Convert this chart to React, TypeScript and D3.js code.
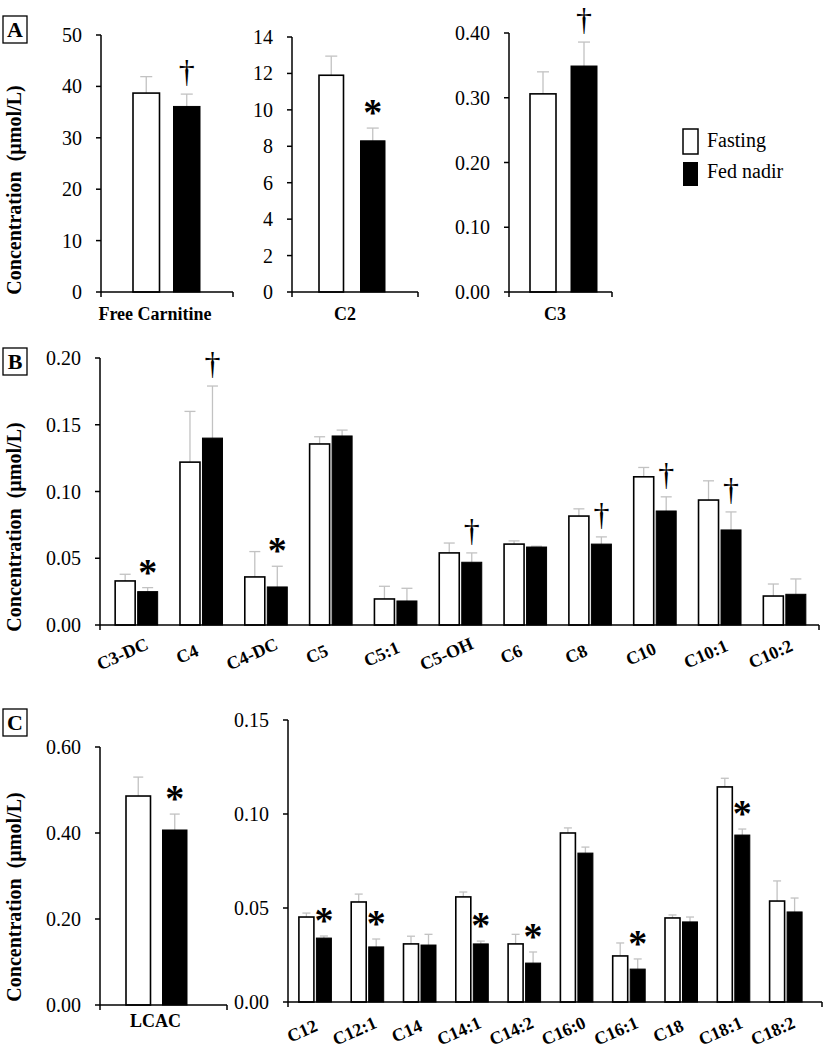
import React from 'react';
import * as d3 from 'd3';

const SERIF = "'Liberation Serif', 'Times New Roman', Times, serif";

// ---------- Panel A ----------
const freeCarnitineCats = ['Free Carnitine'];
const freeCarnitineFasting = [38.7];
const freeCarnitineFastingSe = [3.2];
const freeCarnitineFed = [36.1];
const freeCarnitineFedSe = [2.4];
const freeCarnitineSig = ['†'];
const freeCarnitineTicks = [0, 10, 20, 30, 40, 50];

const c2Cats = ['C2'];
const c2Fasting = [11.9];
const c2FastingSe = [1.05];
const c2Fed = [8.3];
const c2FedSe = [0.7];
const c2Sig = ['*'];
const c2Ticks = [0, 2, 4, 6, 8, 10, 12, 14];

const c3Cats = ['C3'];
const c3Fasting = [0.306];
const c3FastingSe = [0.034];
const c3Fed = [0.349];
const c3FedSe = [0.037];
const c3Sig = ['†'];
const c3Ticks = [0, 0.1, 0.2, 0.3, 0.4];

// ---------- Panel B ----------
const shortCats = ['C3-DC', 'C4', 'C4-DC', 'C5', 'C5:1', 'C5-OH', 'C6', 'C8', 'C10', 'C10:1', 'C10:2'];
const shortFasting = [0.033, 0.122, 0.036, 0.1356, 0.0195, 0.054, 0.0606, 0.0816, 0.111, 0.0936, 0.0217];
const shortFastingSe = [0.005, 0.038, 0.019, 0.0054, 0.0095, 0.0074, 0.0024, 0.0054, 0.007, 0.0144, 0.009];
const shortFed = [0.025, 0.14, 0.0285, 0.1416, 0.018, 0.047, 0.0584, 0.0606, 0.0854, 0.0712, 0.023];
const shortFedSe = [0.003, 0.039, 0.0155, 0.0044, 0.0095, 0.007, 0.0006, 0.0054, 0.0106, 0.0135, 0.0115];
const shortSig = ['*', '†', '*', '', '', '†', '', '†', '†', '†', ''];
const shortTicks = [0, 0.05, 0.1, 0.15, 0.2];

// ---------- Panel C ----------
const lcacCats = ['LCAC'];
const lcacFasting = [0.486];
const lcacFastingSe = [0.044];
const lcacFed = [0.407];
const lcacFedSe = [0.037];
const lcacSig = ['*'];
const lcacTicks = [0, 0.2, 0.4, 0.6];

const longCats = ['C12', 'C12:1', 'C14', 'C14:1', 'C14:2', 'C16:0', 'C16:1', 'C18', 'C18:1', 'C18:2'];
const longFasting = [0.0452, 0.0532, 0.0309, 0.0559, 0.0309, 0.0899, 0.0245, 0.0447, 0.1144, 0.0537];
const longFastingSe = [0.0021, 0.0042, 0.0041, 0.0026, 0.0051, 0.0027, 0.0069, 0.0016, 0.0046, 0.0107];
const longFed = [0.034, 0.0293, 0.0303, 0.0309, 0.0207, 0.0792, 0.0175, 0.0426, 0.0888, 0.0479];
const longFedSe = [0.0011, 0.0042, 0.0057, 0.0015, 0.0059, 0.0032, 0.0054, 0.0026, 0.0032, 0.0074];
const longSig = ['*', '*', '', '*', '*', '', '*', '', '*', ''];
const longTicks = [0, 0.05, 0.1, 0.15];

const legendLabels = ['Fasting', 'Fed nadir'];
const panelLetters = ['A', 'B', 'C'];
const yTitle = 'Concentration  (µmol/L)';

type Layout = {
  axisX: number;
  axisEnd: number;
  yBase: number;
  yTop: number;
  band: [number, number];
  barW: number;
  gap: number;
  capW: number;
  fmt: (v: number) => string;
  rotate: boolean;
  labelDx: number;
  labelDy: number;
};

type PanelProps = {
  cats: string[];
  fasting: number[];
  fastingSe: number[];
  fed: number[];
  fedSe: number[];
  sig: string[];
  ticks: number[];
  layout: Layout;
};

const ERR = '#c2c2c2';
const serifStyle = { fontFamily: SERIF };

function BarPanel({ cats, fasting, fastingSe, fed, fedSe, sig, ticks, layout }: PanelProps) {
  const L = layout;
  const y = d3.scaleLinear().domain([0, ticks[ticks.length - 1]]).range([L.yBase, L.yTop]);
  const x = d3.scaleBand<string>().domain(cats).range(L.band);
  const half = L.gap / 2 + L.barW / 2;
  return (
    <g>
      <line x1={L.axisX} x2={L.axisX} y1={L.yBase} y2={y(ticks[ticks.length - 1])} stroke="#000" strokeWidth={1.5} />
      {ticks.map((t) => (
        <g key={'t' + t}>
          <line x1={L.axisX - 5} x2={L.axisX} y1={y(t)} y2={y(t)} stroke="#000" strokeWidth={1.5} />
          <text
            x={L.axisX - 19}
            y={y(t)}
            textAnchor="end"
            dominantBaseline="central"
            style={{ ...serifStyle, fontSize: 20 }}
          >
            {L.fmt(t)}
          </text>
        </g>
      ))}
      {cats.map((c, i) => {
        const cx = (x(c) as number) + x.bandwidth() / 2;
        const fx = cx - half;
        const dx = cx + half;
        const fTop = y(fasting[i] + fastingSe[i]);
        const dTop = y(fed[i] + fedSe[i]);
        const s = sig[i];
        return (
          <g key={c}>
            <line x1={fx} x2={fx} y1={y(fasting[i])} y2={fTop} stroke={ERR} strokeWidth={1.3} />
            <line x1={fx - L.capW / 2} x2={fx + L.capW / 2} y1={fTop} y2={fTop} stroke={ERR} strokeWidth={1.3} />
            <line x1={dx} x2={dx} y1={y(fed[i])} y2={dTop} stroke={ERR} strokeWidth={1.3} />
            <line x1={dx - L.capW / 2} x2={dx + L.capW / 2} y1={dTop} y2={dTop} stroke={ERR} strokeWidth={1.3} />
            <rect
              x={fx - L.barW / 2}
              y={y(fasting[i])}
              width={L.barW}
              height={L.yBase - y(fasting[i])}
              fill="#fff"
              stroke="#000"
              strokeWidth={1.6}
            />
            <rect
              x={dx - L.barW / 2}
              y={y(fed[i])}
              width={L.barW}
              height={L.yBase - y(fed[i])}
              fill="#000"
              stroke="#000"
              strokeWidth={1}
            />
            {s === '†' && (
              <text x={dx} y={dTop - 12} textAnchor="middle" style={{ ...serifStyle, fontSize: 32 }}>
                †
              </text>
            )}
            {s === '*' && (
              <text x={dx} y={dTop - 3} textAnchor="middle" style={{ ...serifStyle, fontSize: 38, fontWeight: 'bold' }}>
                *
              </text>
            )}
            {L.rotate ? (
              <text
                transform={`translate(${cx + L.labelDx},${L.yBase + L.labelDy}) rotate(-24)`}
                textAnchor="middle"
                dominantBaseline="central"
                style={{ ...serifStyle, fontSize: 18, fontWeight: 'bold' }}
              >
                {c}
              </text>
            ) : (
              <text
                x={cx + L.labelDx}
                y={L.yBase + L.labelDy}
                textAnchor="middle"
                style={{ ...serifStyle, fontSize: 18, fontWeight: 'bold' }}
              >
                {c}
              </text>
            )}
          </g>
        );
      })}
      <line x1={L.axisX} x2={L.axisEnd} y1={L.yBase} y2={L.yBase} stroke="#000" strokeWidth={1.5} />
      <line x1={L.axisX} x2={L.axisX} y1={L.yBase} y2={L.yBase + 5} stroke="#000" strokeWidth={1.5} />
      <line x1={L.axisEnd} x2={L.axisEnd} y1={L.yBase} y2={L.yBase + 5} stroke="#000" strokeWidth={1.5} />
    </g>
  );
}

const intFmt = d3.format('d');
const dec2 = d3.format('.2f');

function Letter({ label, x, y }: { label: string; x: number; y: number }) {
  return (
    <g>
      <rect x={x} y={y} width={24} height={27} fill="#fff" stroke="#000" strokeWidth={1.3} />
      <text x={x + 12} y={y + 21} textAnchor="middle" style={{ ...serifStyle, fontSize: 22, fontWeight: 'bold' }}>
        {label}
      </text>
    </g>
  );
}

function YTitle({ cy }: { cy: number }) {
  return (
    <text
      transform={`translate(14,${cy}) rotate(-90)`}
      textAnchor="middle"
      dominantBaseline="central"
      style={{ ...serifStyle, fontSize: 20, fontWeight: 'bold', whiteSpace: 'pre' }}
    >
      {yTitle}
    </text>
  );
}

export default function App() {
  return (
    <svg
      width={824}
      height={1050}
      viewBox="0 0 824 1050"
      style={{ position: 'absolute', left: 0, top: 0, background: '#fff' }}
    >
      <rect x={0} y={0} width={824} height={1050} fill="#fff" />
      {/* Panel A */}
      <Letter label={panelLetters[0]} x={3} y={16} />
      <YTitle cy={190} />
      <BarPanel
        cats={freeCarnitineCats}
        fasting={freeCarnitineFasting}
        fastingSe={freeCarnitineFastingSe}
        fed={freeCarnitineFed}
        fedSe={freeCarnitineFedSe}
        sig={freeCarnitineSig}
        ticks={freeCarnitineTicks}
        layout={{
          axisX: 101, axisEnd: 233, yBase: 292, yTop: 35, band: [133, 200], barW: 26.5, gap: 14, capW: 12,
          fmt: intFmt, rotate: false, labelDx: -11.5, labelDy: 28,
        }}
      />
      <BarPanel
        cats={c2Cats}
        fasting={c2Fasting}
        fastingSe={c2FastingSe}
        fed={c2Fed}
        fedSe={c2FedSe}
        sig={c2Sig}
        ticks={c2Ticks}
        layout={{
          axisX: 292, axisEnd: 418, yBase: 292, yTop: 37, band: [319, 385], barW: 24.5, gap: 17, capW: 12,
          fmt: intFmt, rotate: false, labelDx: -7, labelDy: 28,
        }}
      />
      <BarPanel
        cats={c3Cats}
        fasting={c3Fasting}
        fastingSe={c3FastingSe}
        fed={c3Fed}
        fedSe={c3FedSe}
        sig={c3Sig}
        ticks={c3Ticks}
        layout={{
          axisX: 509, axisEnd: 612, yBase: 292, yTop: 33, band: [530, 597], barW: 26, gap: 15, capW: 12,
          fmt: dec2, rotate: false, labelDx: -8.5, labelDy: 28,
        }}
      />
      {/* Legend */}
      <rect x={683} y={129} width={15} height={25} fill="#fff" stroke="#000" strokeWidth={1.5} />
      <rect x={683} y={162} width={15} height={24} fill="#000" />
      <text x={707} y={147} style={{ ...serifStyle, fontSize: 20 }}>{legendLabels[0]}</text>
      <text x={707} y={178} style={{ ...serifStyle, fontSize: 20 }}>{legendLabels[1]}</text>

      {/* Panel B */}
      <Letter label={panelLetters[1]} x={3} y={348} />
      <YTitle cy={527} />
      <BarPanel
        cats={shortCats}
        fasting={shortFasting}
        fastingSe={shortFastingSe}
        fed={shortFed}
        fedSe={shortFedSe}
        sig={shortSig}
        ticks={shortTicks}
        layout={{
          axisX: 100, axisEnd: 819, yBase: 625, yTop: 358, band: [104, 817], barW: 20, gap: 2.5, capW: 11,
          fmt: dec2, rotate: true, labelDx: -14, labelDy: 29,
        }}
      />

      {/* Panel C */}
      <Letter label={panelLetters[2]} x={3} y={709} />
      <YTitle cy={897} />
      <BarPanel
        cats={lcacCats}
        fasting={lcacFasting}
        fastingSe={lcacFastingSe}
        fed={lcacFed}
        fedSe={lcacFedSe}
        sig={lcacSig}
        ticks={lcacTicks}
        layout={{
          axisX: 100, axisEnd: 227, yBase: 1005, yTop: 747, band: [126, 187], barW: 24.5, gap: 12, capW: 10,
          fmt: dec2, rotate: false, labelDx: -1, labelDy: 22,
        }}
      />
      <BarPanel
        cats={longCats}
        fasting={longFasting}
        fastingSe={longFastingSe}
        fed={longFed}
        fedSe={longFedSe}
        sig={longSig}
        ticks={longTicks}
        layout={{
          axisX: 288, axisEnd: 822, yBase: 1002, yTop: 720, band: [289, 812], barW: 15, gap: 2.5, capW: 8,
          fmt: dec2, rotate: true, labelDx: -13, labelDy: 29,
        }}
      />
    </svg>
  );
}
